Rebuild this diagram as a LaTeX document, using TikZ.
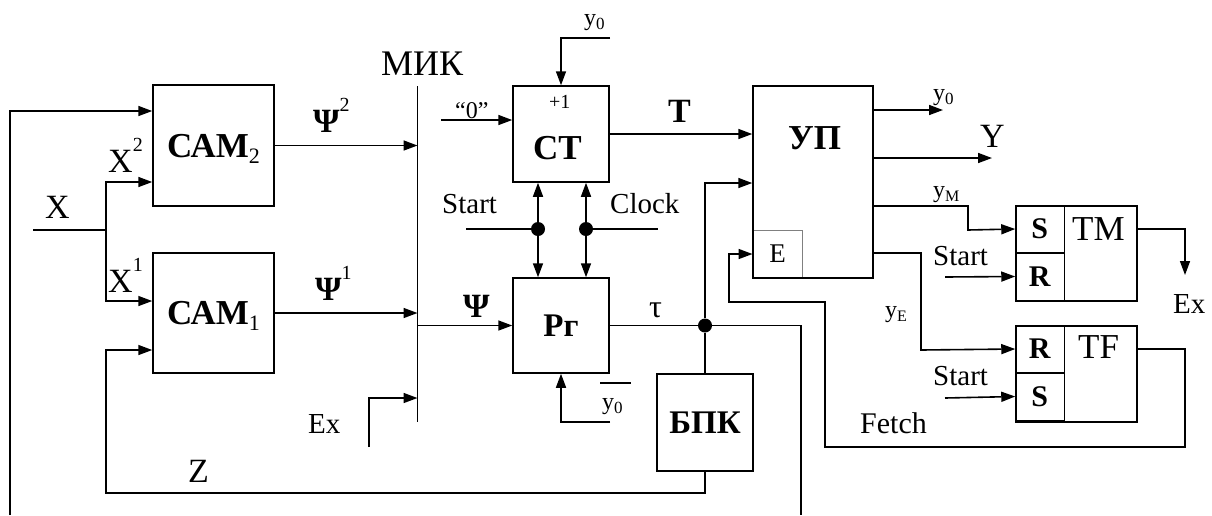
\documentclass[tikz,border=0pt]{standalone}
\usepackage{fontspec}
\setmainfont{Liberation Serif}
\usepackage{tikz}
\usetikzlibrary{arrows.meta,positioning,calc}

\newcommand{\upidx}[2][20]{\raisebox{0.6em}{\fontsize{#1}{#1}\selectfont\mdseries #2}}
\newcommand{\lowidx}[2][20]{\raisebox{-0.18em}{\fontsize{#1}{#1}\selectfont\mdseries #2}}

\begin{document}
\begin{tikzpicture}[
    x=1pt, y=-1pt,
    block/.style={rectangle, draw, line width=1.5pt, inner sep=0pt, minimum size=#1, text depth=0pt, font=\bfseries\fontsize{33}{36}\selectfont},
    cell/.style={rectangle, draw, line width=1.5pt, inner sep=0pt, outer sep=0pt, minimum width=49pt, minimum height=47.5pt, text depth=0pt, font=\bfseries\fontsize{30}{34}\selectfont},
    lab/.style={inner sep=0pt, anchor=base west, font=\fontsize{#1}{#1}\selectfont},
    lab/.default=29,
    blab/.style={inner sep=0pt, anchor=base west, font=\bfseries\fontsize{#1}{#1}\selectfont},
    wire/.style={line width=1.6pt},
    arrow/.style={-{Triangle[length=14pt,width=10pt]}, line width=1.6pt},
    dblarrow/.style={{Triangle[length=14pt,width=10pt]}-{Triangle[length=14pt,width=10pt]}, line width=1.6pt},
    junction/.style={circle, fill, inner sep=0pt, minimum size=14pt},
]
    \path[use as bounding box, fill=white] (0,0) rectangle (1212,515);

    % САМ blocks and inputs X
    \node[block=121pt, font=\bfseries\fontsize{35}{38}\selectfont] (cam2) at (213.5,145.5) {САМ\lowidx[22]{2}};
    \node[block=121pt, minimum height=120pt, font=\bfseries\fontsize{35}{38}\selectfont] (cam1) at (213.5,313) {САМ\lowidx[22]{1}};
    \coordinate (xin) at (33,230);
    \coordinate (xfork) at (106,230);
    \draw[wire] (xin) -- (xfork);
    \draw[arrow] (xfork) |- (cam2.west |- 0,182);
    \draw[arrow] (xfork) |- (cam1.west |- 0,301);
    \node[lab=34] (xlab) at (45,218) {X};
    \node[lab=34] (x2lab) at (108,172) {X\upidx{2}};
    \node[lab=34] (x1lab) at (108,292) {X\upidx{1}};

    % МИК bus
    \coordinate (miktop) at (417.5,86);
    \coordinate (mikbot) at (417.5,422);
    \draw[wire] (miktop) -- (mikbot);
    \node[lab=36] (miklab) at (381,75) {МИК};
    \draw[arrow] (cam2.east) -- (cam2.east -| miktop);
    \draw[arrow] (cam1.east) -- (cam1.east -| miktop);
    \node[lab=34] (psi2lab) at (313,132) {\textbf{Ψ}\upidx{2}};
    \node[lab=34] (psi1lab) at (315,300) {\textbf{Ψ}\upidx{1}};
    \coordinate (exin) at (369,447);
    \draw[arrow] (exin) |- (mikbot |- 0,398);
    \node[lab] (exlab) at (308,433) {Ex};

    % УП with its E input
    \node[rectangle, draw=gray, line width=1pt, minimum width=49pt, minimum height=48pt, inner sep=0pt, font=\fontsize{27}{27}\selectfont] (ebox) at (777.5,254) {E};
    \node[block=120pt, minimum height=192pt] (up) at (813,182) {};
    \node[blab=35] (uplab) at (788,149) {УП};

    % counter СТ and register Рг
    \node[block=96pt] (ct) at (561,134) {};
    \node[blab=35] (ctlab) at (533,159) {СТ};
    \node[lab=20] (inclab) at (549,108) {+1};
    \node[block=96pt, minimum height=95pt] (pr) at (561,325.5) {Рг};
    \coordinate (zeroin) at (441,120);
    \draw[arrow] (zeroin) -- (zeroin -| ct.west);
    \node[lab=24] (zerolab) at (455,118) {“0”};
    \coordinate (ytopin) at (610,38);
    \draw[arrow] (ytopin) -| (ct.north);
    \node[lab=24] (ytoplab) at (584,25) {y\lowidx[17]{0}};
    \draw[arrow] (ct.east) -- (ct.east -| up.west);
    \node[blab=34] (tlab) at (668,122) {T};
    \draw[arrow] (mikbot |- pr.west) -- (pr.west);
    \node[lab=34] (psilab) at (463,317) {\textbf{Ψ}};
    \coordinate (nyin) at (610,422);
    \draw[arrow] (nyin) -| (pr.south);
    \node[lab=24] (nylab) at (602,409) {\rlap{\hspace{-2pt}\rule[1.05em]{1.3em}{1.6pt}}y\lowidx[17]{0}};

    % Start and Clock
    \node[junction] (stdot) at (538,229) {};
    \node[junction] (cldot) at (586,229) {};
    \draw[dblarrow] (stdot |- ct.south) -- (stdot |- pr.north);
    \draw[dblarrow] (cldot |- ct.south) -- (cldot |- pr.north);
    \coordinate (startin) at (466,229);
    \coordinate (clockin) at (658,229);
    \draw[wire] (startin) -- (stdot);
    \draw[wire] (cldot) -- (clockin);
    \node[lab] (startlab) at (442,213) {Start};
    \node[lab] (clocklab) at (610,213) {Clock};

    % τ and БПК
    \node[block=96pt, minimum height=97pt] (bpk) at (705,422.5) {БПК};
    \node[junction] (taudot) at (bpk.north |- pr.east) {};
    \coordinate (tauout) at (801,515);
    \draw[wire] (pr.east) -- (taudot);
    \draw[wire] (taudot) -| (tauout);
    \draw[wire] (taudot) -- (bpk.north);
    \draw[arrow] (taudot) |- (up.west |- 0,183);
    \node[lab=32] (taulab) at (649,317) {τ};

    % feedback Z and outer loop
    \coordinate (zturn) at (106,493);
    \draw[arrow] (bpk.south) |- (zturn) |- (cam1.west |- 0,350);
    \node[lab=34] (zlab) at (188,482) {Z};
    \coordinate (loopin) at (10,515);
    \draw[arrow] (loopin) |- (cam2.west |- 0,111);

    % outputs of УП
    \coordinate (y0out) at (943,110);
    \coordinate (yout) at (992,158);
    \draw[arrow] (up.east |- y0out) -- (y0out);
    \draw[arrow] (up.east |- yout) -- (yout);
    \node[lab=24] (y0outlab) at (933,100) {y\lowidx[17]{0}};
    \node[lab=34] (youtlab) at (980,147) {Y};

    % triggers TM and TF
    \node[block=95pt, minimum width=121pt] (tm) at (1076.5,253.5) {};
    \node[cell, anchor=north west] (tmS) at (tm.north west) {S};
    \node[cell, below=0pt of tmS] (tmR) {R};
    \node[lab=35] (tmlab) at (1072,240) {TM};
    \node[block=96pt, minimum width=121pt] (tf) at (1076.5,374) {};
    \node[cell, anchor=north west] (tfR) at (tf.north west) {R};
    \node[cell, below=0pt of tfR] (tfS) {S};
    \node[lab=35] (tflab) at (1078,358) {TF};

    \coordinate (ymturn) at (968,230);
    \draw[arrow] (up.east |- 0,206) -| (ymturn) -- (tmS.west);
    \node[lab=24] (ymlab) at (933,197) {y\lowidx[16]{M}};
    \coordinate (yeturn) at (921,350);
    \draw[arrow] (up.east |- 0,253) -| (yeturn) -- (tfR.west);
    \node[lab=24] (yelab) at (885,317) {y\lowidx[16]{E}};
    \coordinate (start1in) at (945,277);
    \draw[arrow] (start1in) -- (tmR.west);
    \node[lab] (start1lab) at (933,265) {Start};
    \coordinate (start2in) at (945,398);
    \draw[arrow] (start2in) -- (tfS.west);
    \node[lab] (start2lab) at (933,385) {Start};
    \coordinate (exout) at (1185,275);
    \draw[arrow] (tm.east |- tmS) -| (exout);
    \node[lab] (exoutlab) at (1173,313) {Ex};

    % Fetch back to E
    \draw[arrow] (tf.east |- tfR) -| (1185,447) -| (825,302) -| (ebox.west -| 729,0) -- (ebox.west);
    \node[lab=30] (fetchlab) at (860,433) {Fetch};
\end{tikzpicture}
\end{document}
